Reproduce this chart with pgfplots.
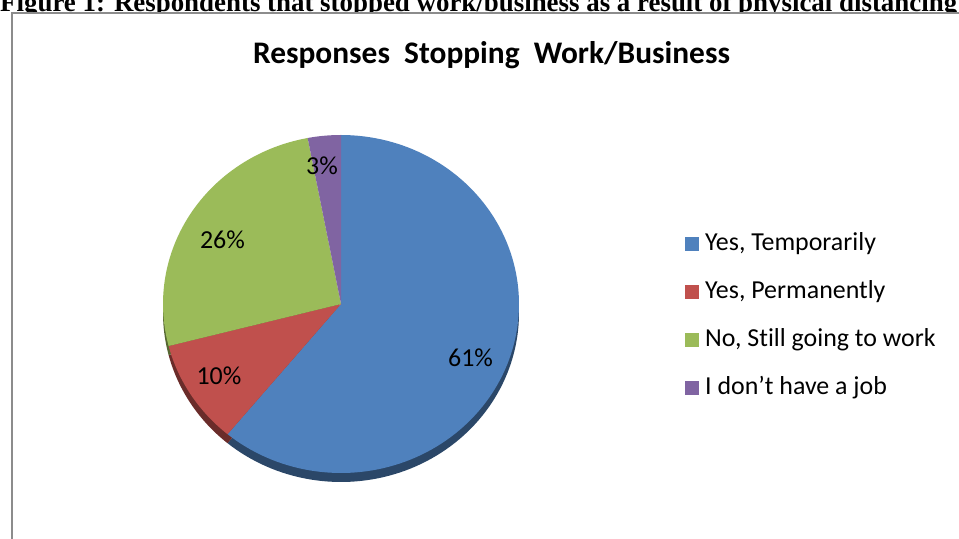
\documentclass[border=0pt]{standalone}
\usepackage{pgfplots}
\pgfplotsset{compat=1.18}
\usepackage{pgfplotstable}
\usepackage{fontspec}
\setmainfont{Carlito}[Ligatures=NoCommon]
\newfontfamily\capfont{Liberation Serif}
\definecolor{cBlue}{HTML}{4F81BD}
\definecolor{cRed}{HTML}{C0504D}
\definecolor{cGreen}{HTML}{9BBB59}
\definecolor{cPurple}{HTML}{8064A2}
\definecolor{frameGray}{HTML}{8C8C8C}

\pgfplotstableread{
label value
Temporarily 61
Permanently 10
Still 26
NoJob 3
}\piedata

\pgfplotstablegetelem{0}{value}\of\piedata \edef\vA{\pgfplotsretval}
\pgfplotstablegetelem{1}{value}\of\piedata \edef\vB{\pgfplotsretval}
\pgfplotstablegetelem{2}{value}\of\piedata \edef\vC{\pgfplotsretval}
\pgfplotstablegetelem{3}{value}\of\piedata \edef\vD{\pgfplotsretval}
\pgfmathsetmacro\aA{90}
\pgfmathsetmacro\aB{\aA-3.6*\vA}
\pgfmathsetmacro\aC{\aB-3.6*\vB}
\pgfmathsetmacro\aD{\aC-3.6*\vC}
\pgfmathsetmacro\aE{\aD-3.6*\vD}
% pie geometry (picture units = px)
\def\cx{341}\def\cy{235}\def\rx{178}\def\ry{169}\def\th{9}

\begin{document}
\begin{tikzpicture}
\path[use as bounding box] (0,0) rectangle (959bp,539bp);
\clip (0,0) rectangle (959bp,539bp);
\begin{axis}[
  at={(0,0)}, anchor=south west,
  width=959bp, height=539bp, scale only axis,
  xmin=0, xmax=959, ymin=0, ymax=539,
  hide axis, clip=false,
  legend cell align=left,
  legend image code/.code={\fill[#1] (0bp,-7bp) rectangle (14bp,7bp);},
  legend style={at={(axis cs:685,307)}, anchor=north west, draw=none, fill=none,
    inner sep=0pt, row sep=24bp, column sep=6bp,
    font=\fontsize{26}{30}\selectfont,
    nodes={inner sep=0pt, text height=18bp, text depth=6bp}},
]
% caption, chart area and frame
\node[anchor=base west, inner sep=0pt, font=\capfont\bfseries\fontsize{27}{30}\selectfont]
  at (axis cs:0,527.5) {Figure 1: Respondents that stopped work/business as a result of physical distancing};
\fill[white] (axis cs:12,-10) rectangle (axis cs:990,526);
\draw[frameGray, line width=2bp] (axis cs:12,-10) -- (axis cs:12,526) -- (axis cs:990,526);
% title
\node[anchor=base, inner sep=0pt, font=\bfseries\fontsize{31.5}{36}\selectfont]
  at (axis cs:491.5,475) {Responses~~Stopping~~Work/Business};

% pie sides (thickness)
\addplot[forget plot, fill=cBlue!55!black, draw=none, domain=\aB:\aA, samples=120, variable=\t]
  ({\cx+\rx*cos(\t)},{\cy-\th+\ry*sin(\t)}) -- (axis cs:\cx,\cy-\th) -- cycle;
\addplot[forget plot, fill=cRed!55!black, draw=none, domain=\aC:\aB, samples=40, variable=\t]
  ({\cx+\rx*cos(\t)},{\cy-\th+\ry*sin(\t)}) -- (axis cs:\cx,\cy-\th) -- cycle;
\addplot[forget plot, fill=cGreen!55!black, draw=none, domain=\aD:\aC, samples=60, variable=\t]
  ({\cx+\rx*cos(\t)},{\cy-\th+\ry*sin(\t)}) -- (axis cs:\cx,\cy-\th) -- cycle;

% pie top faces
\addplot[fill=cBlue, draw=none, domain=\aB:\aA, samples=120, variable=\t]
  ({\cx+\rx*cos(\t)},{\cy+\ry*sin(\t)}) -- (axis cs:\cx,\cy) -- cycle;
\addlegendentry{Yes, Temporarily}
\addplot[fill=cRed, draw=none, domain=\aC:\aB, samples=40, variable=\t]
  ({\cx+\rx*cos(\t)},{\cy+\ry*sin(\t)}) -- (axis cs:\cx,\cy) -- cycle;
\addlegendentry{Yes, Permanently}
\addplot[fill=cGreen, draw=none, domain=\aD:\aC, samples=60, variable=\t]
  ({\cx+\rx*cos(\t)},{\cy+\ry*sin(\t)}) -- (axis cs:\cx,\cy) -- cycle;
\addlegendentry{No, Still going to work}
\addplot[fill=cPurple, draw=none, domain=\aE:\aD, samples=20, variable=\t]
  ({\cx+\rx*cos(\t)},{\cy+\ry*sin(\t)}) -- (axis cs:\cx,\cy) -- cycle;
\addlegendentry{I don’t have a job}

% percentage labels
\node[anchor=base, inner sep=0pt, font=\fontsize{26}{30}\selectfont] at (axis cs:470.5,172.3) {61\%};
\node[anchor=base, inner sep=0pt, font=\fontsize{26}{30}\selectfont] at (axis cs:219,154) {10\%};
\node[anchor=base, inner sep=0pt, font=\fontsize{26}{30}\selectfont] at (axis cs:222.5,290.7) {26\%};
\node[anchor=base, inner sep=0pt, font=\fontsize{26}{30}\selectfont] at (axis cs:322,364) {3\%};
\end{axis}
\end{tikzpicture}
\end{document}
